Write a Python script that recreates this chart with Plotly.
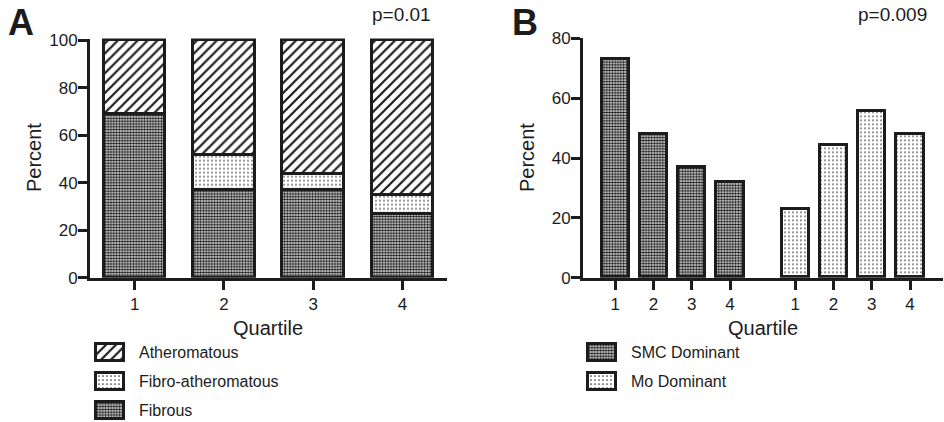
import plotly.graph_objects as go

# ---- data -------------------------------------------------------------
quartiles = ["1", "2", "3", "4"]

# Panel A: plaque composition by quartile (percent, stacked)
fibrous = [69, 37, 37, 27]
fibro_atheromatous = [0, 15, 7, 8]
atheromatous = [31, 48, 56, 65]
p_value_a = "p=0.01"

# Panel B: dominant cell type by quartile (percent)
smc_dominant = [73, 48, 37, 32]
mo_dominant = [23, 44.4, 55.6, 48]
p_value_b = "p=0.009"

# ---- style ------------------------------------------------------------
W, H = 944, 422
INK = "#1c1c1c"
FONT = "Liberation Sans, Arial, Helvetica, sans-serif"
GROUP_GAP = 0.7  # extra spacing between the two groups in panel B

DENSE = dict(shape=".", size=2.8, solidity=0.6, fgcolor="#111111", bgcolor="white", fillmode="replace")
SPARSE = dict(shape=".", size=4, solidity=0.14, fgcolor="#333333", bgcolor="white", fillmode="replace")
PAT = {
    "Atheromatous": dict(shape="/", size=7, solidity=0.32, fgcolor=INK, bgcolor="white", fillmode="replace"),
    "Fibro-atheromatous": SPARSE,
    "Fibrous": DENSE,
    "SMC Dominant": DENSE,
    "Mo Dominant": SPARSE,
}


def px_x(x):
    return x / W


def px_y(y):
    return 1 - y / H


fig = go.Figure()

# ---- panel A: stacked bars ---------------------------------------------
xa = [i + 1 for i in range(len(quartiles))]
for name, vals in [("Fibrous", fibrous),
                   ("Fibro-atheromatous", fibro_atheromatous),
                   ("Atheromatous", atheromatous)]:
    fig.add_trace(go.Bar(
        x=xa, y=vals, name=name, width=0.69,
        marker=dict(color="white", pattern=PAT[name], line=dict(color=INK, width=3)),
        xaxis="x", yaxis="y", showlegend=False, hoverinfo="skip",
    ))

# ---- panel B: grouped bars ---------------------------------------------
n = len(quartiles)
xb_smc = [i + 1 for i in range(n)]
xb_mo = [i + 1 + n + GROUP_GAP for i in range(n)]
for name, xs, vals in [("SMC Dominant", xb_smc, smc_dominant),
                       ("Mo Dominant", xb_mo, mo_dominant)]:
    fig.add_trace(go.Bar(
        x=xs, y=vals, name=name, width=0.71,
        marker=dict(color="white", pattern=PAT[name], line=dict(color=INK, width=3)),
        xaxis="x2", yaxis="y2", showlegend=False, hoverinfo="skip",
    ))

# ---- legend swatches (drawn as bars on hidden axes) ----------------------
legend_a = ["Atheromatous", "Fibro-atheromatous", "Fibrous"]
legend_b = ["SMC Dominant", "Mo Dominant"]
for axes, names in [(("x3", "y3"), legend_a), (("x4", "y4"), legend_b)]:
    for i, name in enumerate(names):
        fig.add_trace(go.Bar(
            y=[i], x=[1], orientation="h", width=0.58, name=name,
            marker=dict(color="white", pattern=PAT[name], line=dict(color=INK, width=3)),
            xaxis=axes[0], yaxis=axes[1], showlegend=False, hoverinfo="skip",
        ))

axis_common = dict(
    showline=True, linewidth=3, linecolor=INK, ticks="outside", ticklen=9,
    tickwidth=3, tickcolor=INK, showgrid=False, zeroline=False,
    tickfont=dict(family=FONT, size=17, color=INK),
)

# plot-area geometry in pixels
A_L, A_R, A_T, A_B = 90, 447, 38.6, 277.7
B_L, B_R, B_T, B_B = 583, 943, 38.3, 277.7

layout = dict(
    width=W, height=H, autosize=False,
    margin=dict(l=0, r=0, t=0, b=0, pad=0, autoexpand=False),
    paper_bgcolor="white", plot_bgcolor="white",
    barmode="stack", bargap=0,
    font=dict(family=FONT, color=INK),
    xaxis=dict(axis_common, domain=[px_x(A_L), px_x(A_R)], range=[0.5, 4.5],
               tickvals=xa, ticktext=quartiles, anchor="y", fixedrange=True),
    yaxis=dict(axis_common, domain=[px_y(A_B), px_y(A_T)], range=[0, 100.6],
               tickvals=[0, 20, 40, 60, 80, 100], anchor="x", fixedrange=True,
               ticklabelstandoff=-3),
    xaxis2=dict(axis_common, domain=[px_x(B_L), px_x(B_R)], range=[0.16, 9.56],
                tickvals=xb_smc + xb_mo, ticktext=quartiles + quartiles, anchor="y2"),
    yaxis2=dict(axis_common, domain=[px_y(B_B), px_y(B_T)], range=[0, 80],
                tickvals=[0, 20, 40, 60, 80], anchor="x2", ticklabelstandoff=-3),
    # legend swatch axes: row spacing 29 px, first row centred at 352.5 px
    xaxis3=dict(visible=False, domain=[px_x(93), px_x(128)], range=[-0.11, 1.14], anchor="y3"),
    yaxis3=dict(visible=False, domain=[0, px_y(338)], range=[2.404, -0.5], anchor="x3"),
    xaxis4=dict(visible=False, domain=[px_x(585), px_x(620)], range=[-0.11, 1.14], anchor="y4"),
    yaxis4=dict(visible=False, domain=[0, px_y(338)], range=[2.404, -0.5], anchor="x4"),
)
fig.update_layout(**layout)

ann = []


def text(x, y, s, size, xanchor="center", yanchor="middle", angle=0, bold=False):
    ann.append(dict(
        x=px_x(x), y=px_y(y), xref="paper", yref="paper", text=f"<b>{s}</b>" if bold else s,
        showarrow=False, xanchor=xanchor, yanchor=yanchor, textangle=angle,
        font=dict(family=FONT, size=size, color=INK),
    ))


# panel letters and p-values
text(6, 23, "A", 36, xanchor="left", bold=True)
text(510, 23, "B", 36, xanchor="left", bold=True)
text(433, 15, p_value_a, 19, xanchor="right")
text(929, 15, p_value_b, 19, xanchor="right")

# axis titles
text(268, 328, "Quartile", 20)
text(34, 158, "Percent", 20, angle=-90)
text(763, 328, "Quartile", 20)
text(527, 158, "Percent", 20, angle=-90)

# legend labels
for i, name in enumerate(legend_a):
    text(137, 352.5 + 29 * i, name, 16, xanchor="left")
for i, name in enumerate(legend_b):
    text(629, 352.5 + 29 * i, name, 16, xanchor="left")

fig.update_layout(annotations=ann)
fig.write_html("out.html")
